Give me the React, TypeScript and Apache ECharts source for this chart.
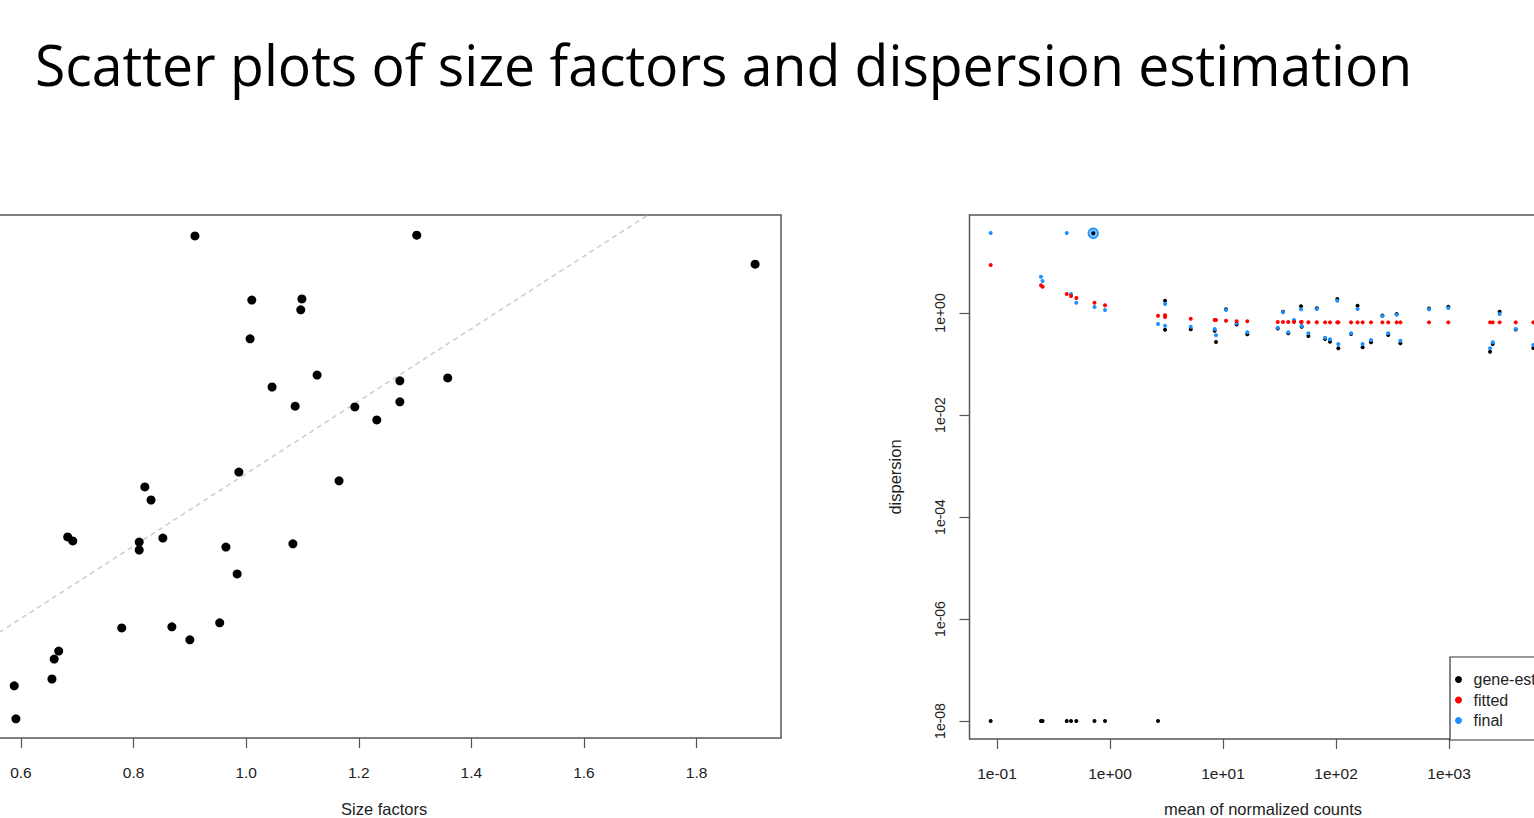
import React, { useEffect, useRef } from "react";
import * as echarts from "echarts";

const TITLE = "Scatter plots of size factors and dispersion estimation";

// ---------- Left panel: size factors ----------
const sizeFactorX = [
  0.909, 1.303, 1.904, 1.01, 1.099, 1.097, 1.007, 1.046, 1.126, 1.273, 1.358, 1.087,
  1.193, 1.273, 1.232, 0.987, 0.82, 0.831, 1.165, 0.683, 0.692, 0.81, 0.81, 0.852,
  0.964, 1.083, 0.984, 0.779, 0.868, 0.953, 0.9, 0.667, 0.659, 0.655, 0.588, 0.591,
];
const sizeFactorY = [
  1.656, 1.658, 1.578, 1.479, 1.482, 1.452, 1.372, 1.239, 1.272, 1.256, 1.264, 1.186,
  1.184, 1.198, 1.148, 1.004, 0.963, 0.927, 0.98, 0.825, 0.814, 0.811, 0.789, 0.822,
  0.797, 0.806, 0.723, 0.574, 0.577, 0.588, 0.541, 0.51, 0.488, 0.433, 0.414, 0.323,
];
const identityLine = [0.4, 2.0];
const sizeFactorTicks = [0.6, 0.8, 1.0, 1.2, 1.4, 1.6, 1.8];

// ---------- Right panel: dispersion estimates ----------
const meanCounts = [
  0.0879, 0.245, 0.253, 0.414, 0.452, 0.503, 0.729, 0.903, 2.66, 3.07, 3.07, 5.18,
  8.44, 8.67, 10.63, 13.2, 16.4, 30.5, 33.96, 37.8, 42.5, 49.0, 49.7, 56.9,
  67.5, 80.0, 88.5, 102.6, 104.8, 135.8, 155, 172, 204, 257, 290, 344,
  371, 665, 986, 2306, 2436, 2805, 3892, 5570,
];
const geneEst = [
  1e-8, 1e-8, 1e-8, 1e-8, 1e-8, 1e-8, 1e-8, 1e-8, 1e-8, 1.742, 0.471, 0.479,
  0.45, 0.27, 1.18, 0.595, 0.382, 0.497, 1.06, 0.4, 0.697, 1.353, 0.539, 0.354,
  1.236, 0.309, 0.274, 1.88, 0.203, 0.388, 1.39, 0.2126, 0.2665, 0.893, 0.371, 0.956,
  0.255, 1.225, 1.33, 0.174, 0.247, 1.06, 0.475, 0.206,
];
const fittedDisp = [
  8.74, 3.49, 3.28, 2.36, 2.15, 1.97, 1.59, 1.415, 0.885, 0.901, 0.835, 0.773,
  0.729, 0.729, 0.706, 0.688, 0.688, 0.666, 0.666, 0.666, 0.666, 0.666, 0.666, 0.66,
  0.66, 0.655, 0.655, 0.655, 0.655, 0.655, 0.655, 0.655, 0.655, 0.655, 0.655, 0.655,
  0.655, 0.655, 0.655, 0.655, 0.655, 0.655, 0.655, 0.655,
];
const finalDisp = [
  37.0, 5.15, 4.24, 37.0, 2.36, 1.59, 1.31, 1.145, 0.608, 1.5, 0.564, 0.539,
  0.486, 0.365, 1.145, 0.628, 0.418, 0.515, 1.03, 0.418, 0.729, 1.18, 0.556, 0.4,
  1.198, 0.328, 0.305, 1.74, 0.247, 0.4, 1.198, 0.247, 0.296, 0.873, 0.4, 0.926,
  0.286, 1.18, 1.253, 0.203, 0.2665, 0.956, 0.486, 0.236,
];
const outlierMean = [0.711];
const outlierDisp = [36.5];
const xLogTicks = [-1, 0, 1, 2, 3];
const yLogTicks = [-8, -6, -4, -2, 0];
const legendNames = ["gene-est", "fitted", "final"];

const FONT = "'Liberation Sans', Arial, sans-serif";
const TEXT = "#222";
const FRAME = "#555";

// The chart canvas is wider than the window so that the plot boxes can run
// past both window edges, as in the reference screenshot.
const PAD = 60;
const CW = 1534 + 2 * PAD;
const CH = 818;

const lg = (v: number) => Math.log10(v);
const fmtExp = (v: number) => {
  const n = Math.round(v);
  return "1e" + (n < 0 ? "-" : "+") + String(Math.abs(n)).padStart(2, "0");
};

export default function App() {
  const ref = useRef<HTMLDivElement>(null);

  useEffect(() => {
    if (!ref.current) return;
    const chart = echarts.init(ref.current, undefined, {
      renderer: "svg",
      width: CW,
      height: CH,
    });

    const tickStyle = { length: 10, lineStyle: { color: FRAME, width: 1.2 } };
    const labelStyle = { color: TEXT, fontSize: 15.5, fontFamily: FONT };
    const nameStyle = { color: TEXT, fontSize: 16.5, fontFamily: FONT };

    const option: any = {
      animation: false,
      backgroundColor: "#fff",
      graphic: [
        {
          type: "text",
          x: PAD + 35,
          y: 64,
          scaleX: 0.988,
          style: {
            text: TITLE,
            font: "56px 'Open Sans'",
            fill: "#000",
            verticalAlign: "middle",
          },
        },
      ],
      grid: [
        {
          left: PAD - 12.8,
          width: 793.8,
          top: 215,
          height: 523,
          outerBoundsMode: "none",
          containLabel: false,
          show: true,
          borderColor: FRAME,
          borderWidth: 1.5,
          backgroundColor: "transparent",
        },
        {
          left: PAD + 969.5,
          width: 587,
          top: 215,
          height: 524,
          outerBoundsMode: "none",
          containLabel: false,
          show: true,
          borderColor: FRAME,
          borderWidth: 1.5,
          backgroundColor: "transparent",
        },
      ],
      xAxis: [
        {
          gridIndex: 0,
          type: "value",
          min: 0.54,
          max: 1.95,
          axisLine: { show: false, onZero: false },
          splitLine: { show: false },
          axisTick: { ...tickStyle, customValues: sizeFactorTicks },
          axisLabel: {
            ...labelStyle,
            margin: 26,
            customValues: sizeFactorTicks,
            formatter: (v: number) => v.toFixed(1),
          },
          name: "Size factors",
          nameLocation: "middle",
          nameGap: 62.5,
          nameTextStyle: nameStyle,
        },
        {
          gridIndex: 1,
          type: "value",
          min: -1.2434,
          max: 3.951,
          axisLine: { show: false, onZero: false },
          splitLine: { show: false },
          axisTick: { ...tickStyle, customValues: xLogTicks },
          axisLabel: {
            ...labelStyle,
            margin: 26,
            customValues: xLogTicks,
            formatter: fmtExp,
          },
          name: "mean of normalized counts",
          nameLocation: "middle",
          nameGap: 61.5,
          nameTextStyle: nameStyle,
        },
      ],
      yAxis: [
        {
          gridIndex: 0,
          type: "value",
          min: 0.2701,
          max: 1.7137,
          axisLine: { show: false, onZero: false },
          axisTick: { show: false },
          axisLabel: { show: false },
          splitLine: { show: false },
        },
        {
          gridIndex: 1,
          type: "value",
          min: -8.353,
          max: 1.9216,
          axisLine: { show: false, onZero: false },
          splitLine: { show: false },
          axisTick: { ...tickStyle, customValues: yLogTicks },
          axisLabel: {
            ...labelStyle,
            fontSize: 14,
            rotate: 90,
            margin: 23,
            customValues: yLogTicks,
            formatter: fmtExp,
          },
          name: "dispersion",
          nameLocation: "middle",
          nameRotate: 90,
          nameGap: 66,
          nameTextStyle: nameStyle,
        },
      ],
      legend: {
        orient: "vertical",
        left: PAD + 1450,
        top: 657,
        padding: [14.5, 30, 11.5, 5],
        itemGap: 4.5,
        itemWidth: 20,
        itemHeight: 7,
        icon: "circle",
        borderColor: "#333",
        borderWidth: 1.2,
        backgroundColor: "#fff",
        selectedMode: false,
        textStyle: { color: TEXT, fontSize: 16, fontFamily: FONT },
        data: legendNames,
      },
      series: [
        {
          type: "line",
          xAxisIndex: 0,
          yAxisIndex: 0,
          data: identityLine.map((v) => [v, v]),
          symbol: "none",
          clip: true,
          z: 1,
          lineStyle: { color: "#cccccc", width: 1.5, type: [5, 4] },
          silent: true,
        },
        {
          type: "scatter",
          name: "size factors",
          xAxisIndex: 0,
          yAxisIndex: 0,
          data: sizeFactorX.map((x, i) => [x, sizeFactorY[i]]),
          symbol: "circle",
          symbolSize: 9,
          itemStyle: { color: "#000", opacity: 1 },
          z: 2,
        },
        {
          type: "scatter",
          name: "outlier",
          xAxisIndex: 1,
          yAxisIndex: 1,
          data: outlierMean.map((m, i) => [lg(m), lg(outlierDisp[i])]),
          symbol: "circle",
          symbolSize: 10,
          itemStyle: {
            color: "rgba(30,144,255,0.6)",
            borderColor: "#1E90FF",
            borderWidth: 1.5,
            opacity: 1,
          },
          z: 1,
        },
        {
          type: "scatter",
          name: "gene-est",
          xAxisIndex: 1,
          yAxisIndex: 1,
          data: meanCounts
            .map((m, i) => [lg(m), lg(geneEst[i])])
            .concat(outlierMean.map((m, i) => [lg(m), lg(outlierDisp[i])])),
          symbol: "circle",
          symbolSize: 4,
          itemStyle: { color: "#000", opacity: 1 },
          z: 2,
        },
        {
          type: "scatter",
          name: "final",
          xAxisIndex: 1,
          yAxisIndex: 1,
          data: meanCounts.map((m, i) => [lg(m), lg(finalDisp[i])]),
          symbol: "circle",
          symbolSize: 4,
          itemStyle: { color: "#1E90FF", opacity: 1 },
          z: 3,
        },
        {
          type: "scatter",
          name: "fitted",
          xAxisIndex: 1,
          yAxisIndex: 1,
          data: meanCounts.map((m, i) => [lg(m), lg(fittedDisp[i])]),
          symbol: "circle",
          symbolSize: 4,
          itemStyle: { color: "#FF0000", opacity: 1 },
          z: 4,
        },
      ],
    };

    chart.setOption(option);
    return () => chart.dispose();
  }, []);

  return (
    <div
      ref={ref}
      style={{
        position: "fixed",
        left: -PAD,
        top: 0,
        width: CW,
        height: CH,
        background: "#fff",
      }}
    />
  );
}
